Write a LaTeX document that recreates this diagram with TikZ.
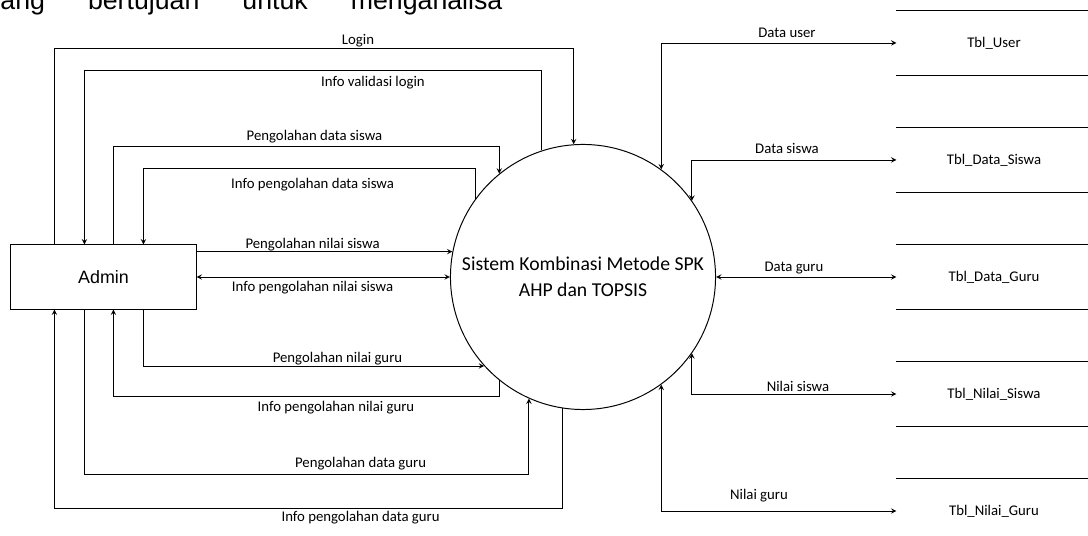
\documentclass[tikz,border=0pt]{standalone}
\usepackage{fontspec}
\setmainfont{Carlito}
\newfontfamily\arialfont{Liberation Sans}
\usepackage{tikz}
\usetikzlibrary{shapes.geometric, arrows, calc}
\tikzstyle{entity} = [rectangle, minimum width=4.625cm, minimum height=1.6cm, draw=black, font=\arialfont\fontsize{12.7}{15}\selectfont]
\tikzstyle{process} = [circle, minimum size=6.625cm, inner sep=0pt, draw=black, align=center, font=\fontsize{14}{18.5}\selectfont]
\tikzstyle{store} = [rectangle, minimum width=4.85cm, minimum height=1.6cm, font=\fontsize{10.5}{12}\selectfont]
\tikzstyle{flow} = [inner sep=0pt, font=\fontsize{10.5}{12}\selectfont]
\tikzstyle{arrow} = [->,>=stealth]
\tikzstyle{twoway} = [<->,>=stealth]

\begin{document}
\begin{tikzpicture}[x=0.025cm, y=-0.025cm, line width=0.7pt]
        \useasboundingbox (0,0) rectangle (1088,536);
        \clip (0,0) rectangle (1088,536);

        % sisa teks halaman di atas diagram
        \node (para) [anchor=base west, inner sep=0pt, font=\arialfont\fontsize{19}{22}\selectfont] at (-13.4,9.5) {yang\hspace{30.6pt}bertujuan\hspace{30.6pt}untuk\hspace{30.6pt}menganalisa};

        \node (admin) [entity] at (103.5,277) {Admin};
        \node (sys) [process] at (583,277) {Sistem Kombinasi Metode SPK\\AHP dan TOPSIS};
        \node (tuser) [store] at (994,43) {Tbl\_User};
        \node (tdsiswa) [store] at (994,160) {Tbl\_Data\_Siswa};
        \node (tdguru) [store] at (994,277) {Tbl\_Data\_Guru};
        \node (tnsiswa) [store] at (994,394) {Tbl\_Nilai\_Siswa};
        \node (tnguru) [store] at (994,511) {Tbl\_Nilai\_Guru};

        % data store
        \draw (tuser.north west) -- (tuser.north east);
        \draw (tuser.south west) -- (tuser.south east);
        \draw (tdsiswa.north west) -- (tdsiswa.north east);
        \draw (tdsiswa.south west) -- (tdsiswa.south east);
        \draw (tdguru.north west) -- (tdguru.north east);
        \draw (tdguru.south west) -- (tdguru.south east);
        \draw (tnsiswa.north west) -- (tnsiswa.north east);
        \draw (tnsiswa.south west) -- (tnsiswa.south east);
        \draw (tnguru.north west) -- (tnguru.north east);
        \draw (tnguru.south west) -- (tnguru.south east);

        % admin <-> sistem
        \draw [arrow] ($(admin.north west)+(44,0)$) -- ++(0,-196) -| (sys.94);
        \draw [arrow] (sys.108) -- ++(0,-80) -| ($(admin.north west)+(74,0)$);
        \draw [arrow] ($(admin.north west)+(103,0)$) -- ++(0,-98) -| (sys.129);
        \draw [arrow] (sys.144) -- ++(0,-30) -| ($(admin.north west)+(133,0)$);
        \draw [arrow] (admin.east |- sys.169) -- (sys.169);
        \draw [twoway] (admin.east) -- (sys.west);
        \draw [arrow] ($(admin.south west)+(133,0)$) |- (sys.222);
        \draw [arrow] (sys.231) -- ++(0,16.5) -| ($(admin.south west)+(103,0)$);
        \draw [arrow] ($(admin.south west)+(74,0)$) -- ++(0,164.5) -| (sys.246);
        \draw [arrow] (sys.261) -- ++(0,100) -| ($(admin.south west)+(44,0)$);

        % sistem <-> data store
        \draw [twoway] (sys.54) |- (tuser.west);
        \draw [twoway] (sys.35) |- (tdsiswa.west);
        \draw [twoway] (sys.east) -- (tdguru.west);
        \draw [twoway] (sys.325) |- (tnsiswa.west);
        \draw [twoway] (sys.306) |- (tnguru.west);

        \node (lLogin) [flow] at (358,41) {Login};
        \node (lValid) [flow] at (373,83) {Info validasi login};
        \node (lPds) [flow] at (314.5,137) {Pengolahan data siswa};
        \node (lIpds) [flow] at (312.6,185) {Info pengolahan data siswa};
        \node (lPns) [flow] at (312.6,245) {Pengolahan nilai siswa};
        \node (lIpns) [flow] at (312.6,288) {Info pengolahan nilai siswa};
        \node (lPng) [flow] at (337.5,359) {Pengolahan nilai guru};
        \node (lIpng) [flow] at (336,407.6) {Info pengolahan nilai guru};
        \node (lPdg) [flow] at (360.6,464) {Pengolahan data guru};
        \node (lIpdg) [flow] at (360.6,517.4) {Info pengolahan data guru};
        \node (lDuser) [flow] at (787,33) {Data user};
        \node (lDsiswa) [flow] at (787,148) {Data siswa};
        \node (lDguru) [flow] at (794,268) {Data guru};
        \node (lNsiswa) [flow] at (798,386) {Nilai siswa};
        \node (lNguru) [flow] at (759,496) {Nilai guru};
\end{tikzpicture}
\end{document}
